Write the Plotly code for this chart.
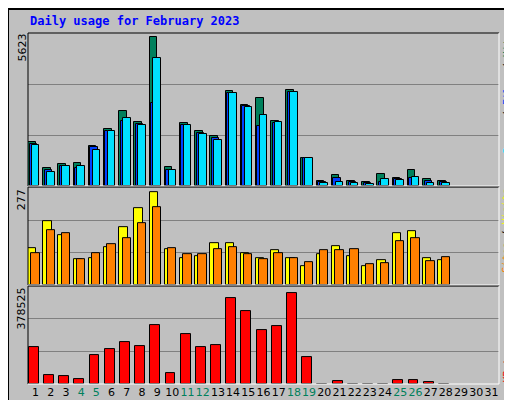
import plotly.graph_objects as go

days = list(range(1, 32))
weekend = [4, 5, 11, 12, 18, 19, 25, 26]

hits = [1646, 697, 823, 887, 1507, 2141, 2825, 2407, 5623, 735, 2369, 2065, 1875, 3585,
        3053, 3319, 2445, 3635, 1077, 203, 405, 203, 139, 443, 291, 595, 253, 203]
files = [1583, 595, 773, 697, 1457, 2090, 2445, 2343, 3129, 595, 2318, 2001, 1811, 3521,
         3015, 2255, 2381, 3547, 1077, 152, 317, 152, 114, 152, 279, 317, 190, 152]
pages = [1533, 545, 773, 773, 1343, 2065, 2559, 2293, 4839, 621, 2293, 1951, 1723, 3509,
         2977, 2673, 2407, 3547, 1077, 127, 165, 127, 89, 279, 241, 355, 127, 127]
visits = [109, 190, 148, 77, 82, 112, 172, 229, 277, 106, 82, 88, 124, 124,
          97, 82, 103, 82, 58, 94, 115, 88, 58, 76, 154, 160, 82, 76]
sites = [97, 163, 154, 79, 97, 121, 139, 184, 232, 109, 94, 94, 106, 112,
         94, 79, 97, 82, 70, 103, 103, 106, 64, 67, 130, 139, 73, 85]
kbytes = [154600, 38700, 34500, 22100, 121600, 146500, 175500, 158900, 245900, 47000,
          208600, 154600, 163000, 357800, 304000, 225200, 241800, 378525, 113300, 1000,
          13800, 1000, 1000, 1000, 18000, 18000, 9700, 1000]

max_hits, max_visits, max_kb = 5623, 277, 378525
x = days[:len(hits)]
line = dict(color="black", width=1)

fig = go.Figure()
# top panel: hits / files / pages
fig.add_trace(go.Bar(x=x, y=hits, width=0.5, offset=-0.5, marker=dict(color="#00805c", line=line), yaxis="y"))
fig.add_trace(go.Bar(x=x, y=files, width=0.5, offset=-0.4, marker=dict(color="#0040ff", line=line), yaxis="y"))
fig.add_trace(go.Bar(x=x, y=pages, width=0.5, offset=-0.25, marker=dict(color="#00e0ff", line=line), yaxis="y"))
# middle: visits / sites
fig.add_trace(go.Bar(x=x, y=visits, width=0.55, offset=-0.5, marker=dict(color="#ffff00", line=line), yaxis="y2"))
fig.add_trace(go.Bar(x=x, y=sites, width=0.55, offset=-0.28, marker=dict(color="#ff8000", line=line), yaxis="y2"))
# bottom: kbytes
fig.add_trace(go.Bar(x=x, y=kbytes, width=0.65, offset=-0.45, marker=dict(color="#ff0000", line=line), yaxis="y3"))

ticktext = [f"<span style='color:#00805c'>{d}</span>" if d in weekend else str(d) for d in days]


def yax(dom, top):
    return dict(domain=dom, range=[0, top], tickvals=[top / 3, top * 2 / 3], showticklabels=False,
                anchor="x", showgrid=True, gridcolor="#808080", gridwidth=1, zeroline=False,
                fixedrange=True, automargin=False)


fig.update_layout(
    width=512, height=400, margin=dict(l=20, r=21, t=25, b=24),
    paper_bgcolor="#c0c0c0", plot_bgcolor="#c0c0c0",
    barmode="overlay", showlegend=False, bargap=0,
    font=dict(family="DejaVu Sans", size=11, color="black"),
    xaxis=dict(range=[0.5, 31.5], tickvals=days, ticktext=ticktext, showgrid=False, anchor="y3",
               zeroline=False, ticks="", tickangle=0, automargin=False,
               tickfont=dict(size=11), fixedrange=True),
    yaxis=yax([0.564, 1], max_hits * 152 / 148),
    yaxis2=yax([0.282, 0.558], max_visits * 96.7 / 92.3),
    yaxis3=yax([0, 0.279], max_kb * 98 / 91.3),
)

shapes = [
    dict(type="rect", xref="paper", yref="paper", x0=-20 / 471, x1=491 / 471, y0=-24 / 351, y1=375 / 351,
         line=dict(color="black", width=2)),
]
for y0, y1 in [(0.564, 1.0), (0.282, 0.561), (0, 0.279)]:
    shapes.append(dict(type="line", xref="paper", yref="paper", x0=0, x1=1, y0=y1, y1=y1, line=dict(color="black", width=1)))
    shapes.append(dict(type="line", xref="paper", yref="paper", x0=0, x1=0, y0=y0, y1=y1, line=dict(color="black", width=1)))
    shapes.append(dict(type="line", xref="paper", yref="paper", x0=0, x1=1, y0=y0, y1=y0, line=dict(color="white", width=1)))
    shapes.append(dict(type="line", xref="paper", yref="paper", x0=1, x1=1, y0=y0, y1=y1, line=dict(color="white", width=1)))
fig.update_layout(shapes=shapes)

side = dict(family="DejaVu Sans Mono", size=10)
ann = [
    dict(text="<b>Daily usage for February 2023</b>", x=0, y=1.0, xref="paper", yref="paper",
         xanchor="left", yanchor="bottom", yshift=3, showarrow=False,
         font=dict(family="DejaVu Sans Mono", size=12, color="#0000ff")),
    dict(text="5623", x=0, y=1.0, xref="paper", yref="paper", xanchor="right", yanchor="top",
         textangle=-90, showarrow=False, xshift=1, borderpad=0),
    dict(text="277", x=0, y=0.558, xref="paper", yref="paper", xanchor="right", yanchor="top",
         textangle=-90, showarrow=False, xshift=1, borderpad=0),
    dict(text="378525", x=0, y=0.279, xref="paper", yref="paper", xanchor="right", yanchor="top",
         textangle=-90, showarrow=False, xshift=1, borderpad=0),
    dict(text="<span style='color:#00e0ff'>Pages</span> / <span style='color:#0040ff'>Files</span> / "
              "<span style='color:#00805c'>Hits</span>",
         x=1, y=1.0, xref="paper", yref="paper", xanchor="left", yanchor="top", borderpad=0,
         textangle=-90, showarrow=False, xshift=1, font=side),
    dict(text="<span style='color:#ff8000'>Sites</span> / <span style='color:#ffff00'>Visits</span>",
         x=1, y=0.558, xref="paper", yref="paper", xanchor="left", yanchor="top", borderpad=0,
         textangle=-90, showarrow=False, xshift=1, font=side),
    dict(text="<span style='color:#ff0000'>KBytes</span>",
         x=1, y=0.0, xref="paper", yref="paper", xanchor="left", yanchor="bottom", borderpad=0,
         textangle=-90, showarrow=False, xshift=1, font=side),
]
fig.update_layout(annotations=ann)

fig.write_html("out.html")
